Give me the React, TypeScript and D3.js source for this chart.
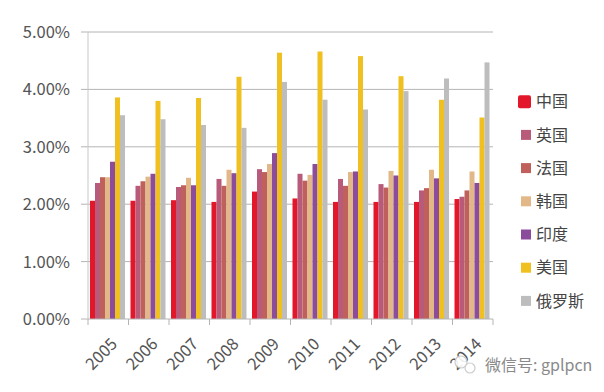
import React from "react";
import * as d3 from "d3";

const years = ["2005","2006","2007","2008","2009","2010","2011","2012","2013","2014"];
const countries = ["中国","英国","法国","韩国","印度","美国","俄罗斯"];
const colors = ["#e3172a","#b85a7a","#c0605c","#e2b888","#8c4c9c","#f0c020","#bdbdbd"];
const china   = [2.06,2.06,2.07,2.04,2.22,2.10,2.04,2.04,2.04,2.09];
const uk      = [2.37,2.32,2.30,2.44,2.61,2.53,2.44,2.35,2.24,2.13];
const france  = [2.47,2.40,2.33,2.32,2.56,2.41,2.32,2.29,2.28,2.24];
const korea   = [2.47,2.48,2.46,2.60,2.70,2.51,2.56,2.58,2.60,2.57];
const india   = [2.74,2.53,2.33,2.54,2.89,2.70,2.57,2.50,2.45,2.37];
const usa     = [3.86,3.80,3.85,4.22,4.64,4.66,4.58,4.23,3.82,3.51];
const russia  = [3.55,3.48,3.38,3.33,4.13,3.82,3.65,3.97,4.19,4.47];
const series = [china, uk, france, korea, india, usa, russia];
const yTicks = [0,1,2,3,4,5];

export default function App() {
  const W = 604, H = 392;
  const left = 88, right = 493, top = 32, bottom = 319;
  const x = d3.scaleBand<string>().domain(years).range([left, right]).paddingInner(0).paddingOuter(0);
  const inner = d3.scaleBand<number>().domain(d3.range(7)).range([2, 37]).padding(0);
  const y = d3.scaleLinear().domain([0, 5]).range([bottom, top]);
  const font = "'Noto Sans CJK SC', 'Noto Sans', sans-serif";
  const boundaries = years.map((yr) => x(yr) as number).concat([right]);
  return (
    <svg width={W} height={H} style={{ position: "absolute", left: 0, top: 0, background: "#fff" }} fontFamily={font}>
      {yTicks.map((t) => (
        <g key={t}>
          <line x1={81} x2={t === 0 ? left : right} y1={y(t)} y2={y(t)} stroke="#b4b4b4" strokeWidth={1} />
          <text x={70} y={y(t)} dy="0.36em" textAnchor="end" fontSize={16.5} fill="#555">{t.toFixed(2) + "%"}</text>
        </g>
      ))}
      <line x1={left} x2={left} y1={top} y2={bottom} stroke="#c8c8c8" />
      {series.map((vals, si) => (
        <g key={si} fill={colors[si]}>
          {vals.map((v, i) => (
            <rect key={i} x={(x(years[i]) as number) + (inner(si) as number)} width={inner.bandwidth()} y={y(v)} height={bottom - y(v)} />
          ))}
        </g>
      ))}
      <line x1={left} x2={right} y1={bottom} y2={bottom} stroke="#b4b4b4" />
      {boundaries.map((b, i) => (
        <line key={i} x1={b} x2={b} y1={bottom} y2={bottom + 6} stroke="#b4b4b4" />
      ))}
      {years.map((yr) => {
        const cx = (x(yr) as number) + x.bandwidth() / 2;
        return (
          <text key={yr} transform={`translate(${cx + 6},${bottom + 22}) rotate(-45)`} textAnchor="end" dy="0.35em" fontSize={16.5} fill="#555">{yr}</text>
        );
      })}
      {countries.map((c, i) => {
        const cy = 101.7 + i * 33.2;
        const s = i === 0 ? 13 : 10;
        return (
          <g key={c}>
            <rect x={531 - s} y={cy - s / 2} width={s} height={s} rx={i === 0 ? 2 : 0} fill={colors[i]} />
            <text x={536} y={cy} dy="0.36em" fontSize={16} fill="#444">{c}</text>
          </g>
        );
      })}
      <g opacity={0.9}>
        <circle cx={461} cy={362} r={6} fill="#fff" stroke="#c8c8c8" strokeWidth={1.2} />
        <circle cx={470} cy={368} r={5} fill="#fff" stroke="#c8c8c8" strokeWidth={1.2} />
      </g>
      <text x={485} y={365} dy="0.36em" fontSize={16} fill="#8a8a8a">微信号: gplpcn</text>
    </svg>
  );
}
